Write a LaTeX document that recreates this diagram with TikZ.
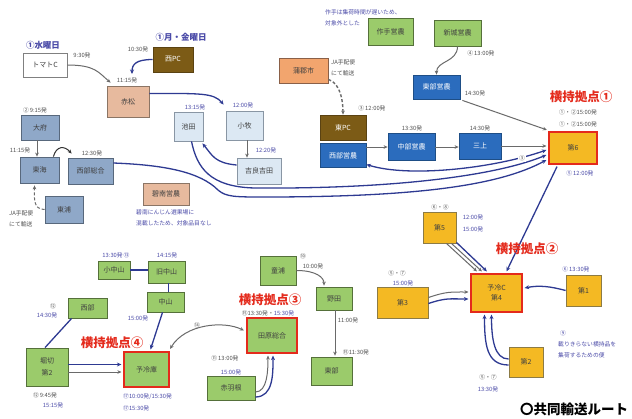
\documentclass[tikz,border=0pt]{standalone}
\usepackage{fontspec}
\setmainfont{Noto Sans CJK JP}
\usetikzlibrary{arrows.meta,calc}
\definecolor{cgreen}{HTML}{9BCB6B}
\definecolor{cgreenB}{HTML}{55703A}
\definecolor{corange}{HTML}{F4B923}
\definecolor{corangeB}{HTML}{8C7B45}
\definecolor{cblueF}{HTML}{2B6CBD}
\definecolor{cblueB}{HTML}{1E4E86}
\definecolor{cbgray}{HTML}{8FA8C8}
\definecolor{cbgrayB}{HTML}{58687C}
\definecolor{clight}{HTML}{DCE8F3}
\definecolor{clightB}{HTML}{8996A4}
\definecolor{csalmon}{HTML}{E7BA9E}
\definecolor{csalmonB}{HTML}{8B7565}
\definecolor{cpeach}{HTML}{F2A56E}
\definecolor{cpeachB}{HTML}{8A6048}
\definecolor{cbrown}{HTML}{7C5B16}
\definecolor{cbrownB}{HTML}{5A4212}
\definecolor{cred}{HTML}{E42A1C}
\definecolor{cline}{HTML}{2E3A92}
\definecolor{cgrayL}{HTML}{6A6A6A}
\definecolor{ctblue}{HTML}{4B4BA8}
\definecolor{ctgray}{HTML}{505050}
\tikzset{
  bx/.style={draw, line width=0.8pt, inner sep=0pt, align=center, font=\fontsize{7}{8.5}\selectfont, text=black!75},
  gbox/.style={bx, fill=cgreen, draw=cgreenB},
  obox/.style={bx, fill=corange, draw=corangeB},
  bbox/.style={bx, fill=cblueF, draw=cblueB, text=white},
  sbox/.style={bx, fill=cbgray, draw=cbgrayB},
  lbox/.style={bx, fill=clight, draw=clightB},
  pbox/.style={bx, fill=csalmon, draw=csalmonB},
  ebox/.style={bx, fill=cpeach, draw=cpeachB},
  nbox/.style={bx, fill=cbrown, draw=cbrownB, text=white},
  wbox/.style={bx, fill=white, draw=gray},
  hub/.style={draw=cred, line width=2.2pt},
  lab/.style={inner sep=0pt, font=\fontsize{5.8}{6.5}\selectfont, text=ctgray},
  labb/.style={lab, text=ctblue},
  note/.style={inner sep=0pt, font=\fontsize{5.8}{11}\selectfont, text=ctblue, align=left},
  hubt/.style={inner sep=0pt, font=\fontsize{12.5}{14}\selectfont\bfseries, text=cred},
  daylab/.style={inner sep=0pt, font=\fontsize{8.5}{10}\selectfont\bfseries, text=ctblue},
  ga/.style={draw=cgrayL, line width=1pt, -{Stealth[length=4pt,width=3.6pt]}},
  gab/.style={draw=cgrayL, line width=1pt, {Stealth[length=4pt,width=3.6pt]}-{Stealth[length=4pt,width=3.6pt]}},
  ka/.style={draw=black!80, line width=1pt, -{Stealth[length=4pt,width=3.6pt]}},
  ba/.style={draw=cline, line width=1.3pt, -{Stealth[length=4.5pt,width=4pt]}},
  bab/.style={draw=cline, line width=1.3pt, {Stealth[length=4.5pt,width=4pt]}-{Stealth[length=4.5pt,width=4pt]}},
  bl/.style={draw=cline, line width=1.3pt},
}
\begin{document}
\begin{tikzpicture}[x=1pt,y=-1pt]
\fill[white] (0,0) rectangle (632,418);
\useasboundingbox (0,0) rectangle (632,418);
% boxes
\node[wbox, minimum width=44pt, minimum height=24pt] (tomato) at (45,65) {トマトC};
\node[nbox, minimum width=40pt, minimum height=25pt] (nishipc) at (173,59.5) {西PC};
\node[pbox, minimum width=42pt, minimum height=31pt] (akamatsu) at (128,101.5) {赤松};
\node[sbox, minimum width=38pt, minimum height=25pt] (obu) at (40,127.5) {大府};
\node[sbox, minimum width=39pt, minimum height=26pt] (tokai) at (39.5,170) {東海};
\node[sbox, minimum width=45pt, minimum height=26pt] (seibusogo) at (90.5,171) {西部総合};
\node[sbox, minimum width=38pt, minimum height=27pt] (higashiura) at (64,209.5) {東浦};
\node[lbox, minimum width=29pt, minimum height=29pt] (ikeda) at (188.5,126.5) {池田};
\node[lbox, minimum width=37pt, minimum height=29pt] (komaki) at (244.5,125.5) {小牧};
\node[lbox, minimum width=44pt, minimum height=26pt] (kira) at (259,171) {吉良吉田};
\node[pbox, minimum width=46pt, minimum height=22pt] (hekinan) at (166,194) {碧南営農};
\node[ebox, minimum width=49pt, minimum height=25pt] (gamagori) at (303.5,70.5) {蒲郡市};
\node[nbox, minimum width=46pt, minimum height=25pt] (higashipc) at (343,127.5) {東PC};
\node[bbox, minimum width=46pt, minimum height=24pt] (seibueino) at (343,155.5) {西部営農};
\node[bbox, minimum width=47pt, minimum height=27pt] (chubu) at (411.5,147) {中部営農};
\node[bbox, minimum width=42pt, minimum height=26pt] (mikami) at (480,146) {三上};
\node[obox, hub, minimum width=48pt, minimum height=32pt] (dai6) at (573,148) {第6};
\node[gbox, minimum width=45pt, minimum height=27pt] (tsukude) at (390.5,31.5) {作手営農};
\node[gbox, minimum width=47pt, minimum height=26pt] (shinshiro) at (457.5,33) {新城営農};
\node[bbox, minimum width=47pt, minimum height=24pt] (toboueino) at (436.5,87) {東部営農};
\node[obox, minimum width=33pt, minimum height=31pt] (dai5) at (439.5,227.5) {第5};
\node[obox, hub, minimum width=51pt, minimum height=38pt] (dai4) at (496.5,293) {予冷C\\[2pt]第4};
\node[obox, minimum width=35pt, minimum height=31pt] (dai1) at (583.5,290.5) {第1};
\node[obox, minimum width=51pt, minimum height=31pt] (dai3) at (402.5,302.5) {第3};
\node[obox, minimum width=34pt, minimum height=30pt] (dai2) at (526,362) {第2};
\node[gbox, minimum width=32pt, minimum height=18pt] (konakayama) at (114,270) {小中山};
\node[gbox, minimum width=37pt, minimum height=22pt] (kyunakayama) at (166.5,272) {旧中山};
\node[gbox, minimum width=37pt, minimum height=20pt] (nakayama) at (165.5,302) {中山};
\node[gbox, minimum width=39pt, minimum height=20pt] (seibu) at (87.5,308) {西部};
\node[gbox, minimum width=42pt, minimum height=38pt] (horikiri) at (47,367) {堀切\\[3pt]第2};
\node[gbox, hub, minimum width=45pt, minimum height=35pt] (yoreiko) at (146.5,369.5) {予冷庫};
\node[gbox, minimum width=36pt, minimum height=29pt] (doura) at (278,270.5) {童浦};
\node[gbox, minimum width=36pt, minimum height=23pt] (noda) at (334,298.5) {野田};
\node[gbox, minimum width=41pt, minimum height=28pt] (tobu) at (331.5,371) {東部};
\node[gbox, hub, minimum width=50pt, minimum height=35pt] (tahara) at (272,335.5) {田原総合};
\node[gbox, minimum width=48pt, minimum height=24pt] (akabane) at (231,388) {赤羽根};
% top-left connectors
\draw[ga] (tomato.east) .. controls +(28,0) and +(-12,-10) .. ($(akamatsu.north west)+(4,-3)$);
\coordinate (npcEnd) at (132,74);
\draw[ba] (nishipc.west) .. controls +(-16,0) and +(0,-10) .. (npcEnd);
\draw[ba] ($(akamatsu.east)+(0,-8)$) .. controls +(50,0) and +(-10,-12) .. ($(komaki.north west)+(-2,-6)$);
\draw[ga] ($(komaki.south)+(2.5,0)$) -- ($(komaki.south |- kira.north)+(2.5,0)$);
\draw[ba] ($(kira.west)+(0,-6)$) .. controls +(-22,-2) and +(10,12) .. ($(ikeda.south east)+(-1,2)$);
\draw[ga] ($(obu.south)+(-3,0)$) -- ($(obu.south |- tokai.north)+(-3,0)$);
\draw[ka] ($(tokai.north east)+(-6,0)$) .. controls +(3,-11) and +(-7,-8) .. ($(seibusogo.north west)+(4,-4)$);
\draw[ga, dash pattern=on 3pt off 2pt] (higashiura.west) .. controls +(-12,0) and +(0,12) .. ($(tokai.south)+(-5,2)$);
% long curves
\draw[bab] ($(dai6.west)+(-1.5,2)$) .. controls (495,168) and (410,178) .. ($(seibueino.east)+(0,9)$);
\draw[ba] ($(ikeda.south)+(3,0)$) .. controls (197,168) and (210,187) .. (255,188) .. controls (380,189) and (490,178) .. ($(dai6.west)+(-1.5,7)$);
\draw[ba] ($(seibusogo.east)+(0,-8)$) .. controls (165,165) and (200,172) .. (218,190) .. controls (226,197) and (235,197) .. (265,197) .. controls (420,197) and (500,185) .. ($(dai6.west)+(-1.5,12)$);
% top-right connectors
\draw[ga, line width=1.4pt, dash pattern=on 3pt off 2pt] ($(gamagori.south east)+(0,-4)$) .. controls +(12,4) and +(0,-14) .. (higashipc.north);
\draw[ga] (seibueino.east |- chubu.west) -- (chubu.west);
\draw[ga] (chubu.east) -- (chubu.east -| mikami.west);
\draw[ga] (mikami.east) -- ($(mikami.east -| dai6.west)+(-1.5,0)$);
\draw[ga] (shinshiro.south) .. controls +(0,16) and +(0,-14) .. (toboueino.north);
\draw[ga] ($(toboueino.south east)+(2,1)$) -- ($(dai6.north west)+(-1,-1)$);
% right cluster
\draw[ba] ($(dai6.south)+(-16,1.5)$) -- ($(dai4.north)+(10,-1.5)$);
\draw[ga] ($(dai5.south east)+(-10,0)$) -- ($(dai4.north west)+(7,-1.5)$);
\draw[ga] ($(dai5.south east)+(-5,0)$) -- ($(dai4.north west)+(12,-1.5)$);
\draw[ba] ($(dai5.south east)+(0,-1)$) -- ($(dai4.north west)+(17,-1.5)$);
\draw[ba] (dai1.west) .. controls +(-15,-4) and +(15,-3) .. ($(dai4.east)+(1.5,-5)$);
\draw[ga] ($(dai3.east)+(0,-5)$) .. controls +(18,-6) and +(-18,0) .. ($(dai4.west)+(-1.5,-1)$);
\draw[ba] ($(dai3.east)+(0,1)$) .. controls +(18,-6) and +(-18,0) .. ($(dai4.west)+(-1.5,6)$);
\draw[ba] ($(dai2.west)+(0,3)$) .. controls +(-22,0) and +(0,30) .. ($(dai4.south)+(-12,1.5)$);
\draw[ba] ($(dai2.west)+(0,-3)$) .. controls +(-14,0) and +(0,25) .. ($(dai4.south)+(-5,1.5)$);
% bottom-left
\draw[bl] (konakayama.east) -- (kyunakayama.west |- konakayama.east);
\draw[bl] ($(kyunakayama.south)+(2,0)$) -- ($(nakayama.north)+(3,0)$);
\draw[ba] ($(nakayama.south)+(-3,0)$) -- ($(yoreiko.north)+(4,-1.5)$);
\draw[bl] ($(seibu.south west)+(4,0)$) -- ($(horikiri.north)+(-2,0)$);
\draw[ba] ($(horikiri.east)+(0,-2.5)$) -- ($(yoreiko.west)+(-1.5,-5)$);
\draw[ga] ($(horikiri.east)+(0,5)$) -- ($(yoreiko.west)+(-1.5,2.5)$);
\draw[gab] ($(yoreiko.north east)+(0,-2)$) .. controls +(15,-25) and +(-20,-10) .. ($(tahara.west)+(-2,-5)$);
\draw[ga] (doura.east) .. controls +(20,0) and +(0,-8) .. ($(noda.north)+(-10,-1)$);
\draw[ga] ($(noda.south)+(1,0)$) -- ($(tobu.north)+(3.5,-1)$);
\draw[ga] ($(akabane.east)+(0,4)$) .. controls +(12,0) and +(0,15) .. ($(tahara.south)+(-4,1.5)$);
\draw[ba] ($(akabane.east)+(0,9)$) .. controls +(18,0) and +(0,18) .. ($(tahara.south)+(1,1.5)$);
% labels
\node[daylab] (d1) at (43,45) {①水曜日};
\node[daylab] (d2) at (181,37) {①月・金曜日};
\node[lab] (l1) at (82,55) {9:30発};
\node[lab] (l2) at (138,49) {10:30発};
\node[lab] (l3) at (127,80) {11:15発};
\node[lab] (l4) at (35,110) {②\,9:15発};
\node[labb] (l5) at (195,107) {13:15発};
\node[labb] (l6) at (243,105) {12:00発};
\node[labb] (l7) at (266,150) {12:20発};
\node[lab] (l8) at (20,150) {11:15発};
\node[lab] (l9) at (92,153) {12:30発};
\node[note, text=ctgray, anchor=west] (l10) at (9,219) {JA手配便\\にて輸送};
\node[note, text=ctgray, anchor=west] (l11) at (331,67.5) {JA手配便\\にて輸送};
\node[note, anchor=west] (n1) at (325,17.5) {作手は集荷時間が遅いため、\\対象外とした};
\node[lab] (l12) at (372,108) {③\,12:00発};
\node[lab] (l13) at (481,53) {④\,13:00発};
\node[lab] (l14) at (475,93) {14:30発};
\node[lab] (l15) at (412,128) {13:30発};
\node[lab] (l16) at (480,128) {14:30発};
\node[hubt] (h1) at (581,97) {横持拠点①};
\node[lab] (l17) at (578,112) {①・②15:00発};
\node[lab] (l18) at (578,124) {①・②15:00発};
\node[labb] (l19) at (580,173) {⑤\,12:00発};
\node[lab, fill=white, inner sep=1pt] (l20) at (522,158) {③};
\node[lab] (l21) at (440,207) {⑥・⑧};
\node[labb] (l22) at (473,217) {12:00発};
\node[labb] (l23) at (473,229) {15:00発};
\node[hubt] (h2) at (527,249) {横持拠点②};
\node[lab] (l24) at (397,273) {⑤・⑦};
\node[labb] (l25) at (403,283) {15:00発};
\node[labb] (l26) at (576,269) {⑥\,13:30発};
\node[lab] (l27) at (488,377) {⑤・⑦};
\node[labb] (l28) at (488,389) {13:30発};
\node[labb] (l29) at (563,333) {⑨};
\node[note, anchor=west] (n2) at (558,350) {載りきらない横持品を\\集荷するための便};
\node[note, anchor=west] (n3) at (136,218) {碧南にんじん選果場に\\混載したため、対象品目なし};
\node[inner sep=0pt, font=\fontsize{13.5}{15}\selectfont\bfseries] (legend) at (574,409) {〇共同輸送ルート};
\node[labb] (b1) at (116,255) {13:30発\,⑬};
\node[labb] (b2) at (167,255) {14:15発};
\node[labb] (b3) at (138,318) {15:00発};
\node[lab] (b4) at (53,306) {⑫};
\node[labb] (b5) at (47,315) {14:30発};
\node[hubt] (h4) at (112,343) {横持拠点④};
\node[lab] (b6) at (45,395) {⑫\,9:45発};
\node[labb] (b7) at (53,405) {15:15発};
\node[labb, anchor=west] (b8) at (123,397) {⑰10:00発/15:30発};
\node[labb, anchor=west] (b9) at (123,408) {⑰15:30発};
\node[lab] (b10) at (197,325) {⑭};
\node[lab] (b11) at (303,256) {⑩};
\node[lab] (b12) at (313,266) {10:00発};
\node[lab] (b13) at (348,320) {11:00発};
\node[lab] (b14) at (356,352) {⑮11:30発};
\node[hubt] (h3) at (270,300) {横持拠点③};
\node[lab] (b15) at (268,313) {⑮13:30発・\textcolor{ctblue}{15:30発}};
\node[lab] (b16) at (225,358) {⑪\,13:00発};
\node[labb] (b17) at (231,372) {15:00発};
\end{tikzpicture}
\end{document}
